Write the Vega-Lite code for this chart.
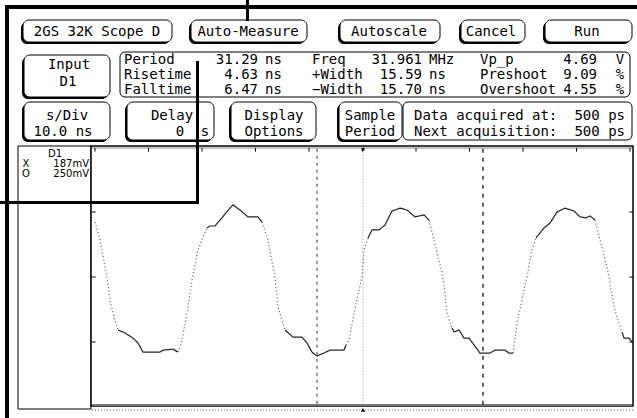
{
  "$schema": "https://vega.github.io/schema/vega-lite/v6.json",
  "width": 637,
  "height": 418,
  "padding": 0,
  "autosize": {"type": "fit", "contains": "padding"},
  "background": "white",
  "config": {"view": {"stroke": null}, "text": {"font": "DejaVu Sans Mono", "fontSize": 14, "color": "black", "baseline": "middle"}},
  "datasets": {
    "frame": [{"x": 5, "x2": 637, "y": 5, "y2": 9}, {"x": 5, "x2": 9, "y": 5, "y2": 418}],
    "connectors": [{"x": 246, "x2": 249, "y": 0, "y2": 21}, {"x": 196, "x2": 199, "y": 61, "y2": 204}, {"x": 0, "x2": 199, "y": 201, "y2": 204}],
    "buttons": [
      {"x": 23, "x2": 172, "y": 20, "y2": 42},
      {"x": 191, "x2": 307, "y": 20, "y2": 42},
      {"x": 340, "x2": 440, "y": 20, "y2": 42},
      {"x": 461, "x2": 525, "y": 20, "y2": 42},
      {"x": 545, "x2": 632, "y": 20, "y2": 42},
      {"x": 24, "x2": 110, "y": 55, "y2": 97},
      {"x": 24, "x2": 110, "y": 102, "y2": 140},
      {"x": 127, "x2": 214, "y": 102, "y2": 140},
      {"x": 231, "x2": 316, "y": 102, "y2": 140},
      {"x": 339, "x2": 402, "y": 102, "y2": 140}
    ],
    "boxes": [{"x": 120, "x2": 630, "y": 52, "y2": 97}, {"x": 403, "x2": 632, "y": 102, "y2": 140}],
    "panel": [{"x": 18, "x2": 91, "y": 146, "y2": 409}],
    "plotbox": [{"x": 91, "x2": 633, "y": 146, "y2": 406}],
    "grayTop": [{"x": 92, "x2": 632, "y": 148}],
    "grayBottom": [{"x": 92, "x2": 632, "y": 405}],
    "dotBottom": [{"x": 92, "x2": 633, "y": 410}],
    "textCenter": [
      {"x": 97, "y": 32, "text": "2GS 32K Scope D"},
      {"x": 248, "y": 32, "text": "Auto-Measure"},
      {"x": 389, "y": 32, "text": "Autoscale"},
      {"x": 491, "y": 32, "text": "Cancel"},
      {"x": 587, "y": 32, "text": "Run"},
      {"x": 69, "y": 65, "text": "Input"},
      {"x": 68, "y": 82, "text": "D1"},
      {"x": 67, "y": 116, "text": "s/Div"},
      {"x": 63, "y": 132, "text": "10.0 ns"},
      {"x": 172, "y": 116, "text": "Delay"},
      {"x": 180, "y": 132, "text": "0"},
      {"x": 205, "y": 132, "text": "s"},
      {"x": 274, "y": 116, "text": "Display"},
      {"x": 274, "y": 132, "text": "Options"},
      {"x": 370, "y": 116, "text": "Sample"},
      {"x": 370, "y": 132, "text": "Period"},
      {"x": 620, "y": 60, "text": "V"},
      {"x": 620, "y": 75, "text": "%"},
      {"x": 620, "y": 90, "text": "%"}
    ],
    "textLeft": [
      {"x": 124, "y": 60, "text": "Period"},
      {"x": 124, "y": 75, "text": "Risetime"},
      {"x": 124, "y": 90, "text": "Falltime"},
      {"x": 265, "y": 60, "text": "ns"},
      {"x": 265, "y": 75, "text": "ns"},
      {"x": 265, "y": 90, "text": "ns"},
      {"x": 312, "y": 60, "text": "Freq"},
      {"x": 312, "y": 75, "text": "+Width"},
      {"x": 312, "y": 90, "text": "−Width"},
      {"x": 429, "y": 60, "text": "MHz"},
      {"x": 429, "y": 75, "text": "ns"},
      {"x": 429, "y": 90, "text": "ns"},
      {"x": 480, "y": 60, "text": "Vp_p"},
      {"x": 480, "y": 75, "text": "Preshoot"},
      {"x": 480, "y": 90, "text": "Overshoot"},
      {"x": 414, "y": 116, "text": "Data acquired at:"},
      {"x": 414, "y": 132, "text": "Next acquisition:"}
    ],
    "textRight": [
      {"x": 258, "y": 60, "text": "31.29"},
      {"x": 258, "y": 75, "text": "4.63"},
      {"x": 258, "y": 90, "text": "6.47"},
      {"x": 422, "y": 60, "text": "31.961"},
      {"x": 422, "y": 75, "text": "15.59"},
      {"x": 422, "y": 90, "text": "15.70"},
      {"x": 597, "y": 60, "text": "4.69"},
      {"x": 597, "y": 75, "text": "9.09"},
      {"x": 597, "y": 90, "text": "4.55"},
      {"x": 625, "y": 116, "text": "500 ps"},
      {"x": 625, "y": 132, "text": "500 ps"}
    ],
    "panelCenter": [
      {"x": 55, "y": 154, "text": "D1"},
      {"x": 26, "y": 164, "text": "X"},
      {"x": 26, "y": 174, "text": "O"}
    ],
    "panelRight": [
      {"x": 89, "y": 164, "text": "187mV"},
      {"x": 89, "y": 174, "text": "250mV"}
    ],
    "xticks": [{"t": 0}, {"t": 10}, {"t": 20}, {"t": 30}, {"t": 40}, {"t": 50}, {"t": 60}, {"t": 70}, {"t": 80}, {"t": 90}, {"t": 100}],
    "yticks": [{"v": 2}, {"v": 0}, {"v": -2}],
    "cursorX": [{"t": 41.5}],
    "cursorTrig": [{"t": 50.09}],
    "cursorO": [{"t": 72.52}],
    "trigMarker": [{"t": 50.09, "v": -4.09}],
    "trigTop": [{"t": 50.09, "v": 3.93}],
    "wave": [
      {"t": 0, "v": 1.69, "seg": 1, "kind": "edge"},
      {"t": 0.93, "v": 1.14, "seg": 1, "kind": "edge"},
      {"t": 2.24, "v": 0, "seg": 1, "kind": "edge"},
      {"t": 2.8, "v": -0.71, "seg": 1, "kind": "edge"},
      {"t": 3.36, "v": -1.11, "seg": 1, "kind": "edge"},
      {"t": 4.3, "v": -1.63, "seg": 1, "kind": "edge"},
      {"t": 4.3, "v": -1.63, "seg": 2, "kind": "flat"},
      {"t": 5.61, "v": -1.72, "seg": 2, "kind": "flat"},
      {"t": 7.1, "v": -1.88, "seg": 2, "kind": "flat"},
      {"t": 8.04, "v": -2.03, "seg": 2, "kind": "flat"},
      {"t": 8.97, "v": -2.31, "seg": 2, "kind": "flat"},
      {"t": 12.15, "v": -2.31, "seg": 2, "kind": "flat"},
      {"t": 12.71, "v": -2.25, "seg": 2, "kind": "flat"},
      {"t": 14.58, "v": -2.22, "seg": 2, "kind": "flat"},
      {"t": 15.51, "v": -2.31, "seg": 2, "kind": "flat"},
      {"t": 15.51, "v": -2.31, "seg": 3, "kind": "edge"},
      {"t": 16.26, "v": -1.94, "seg": 3, "kind": "edge"},
      {"t": 17.2, "v": -1.11, "seg": 3, "kind": "edge"},
      {"t": 18.13, "v": -0.09, "seg": 3, "kind": "edge"},
      {"t": 18.5, "v": 0.22, "seg": 3, "kind": "edge"},
      {"t": 19.25, "v": 0.83, "seg": 3, "kind": "edge"},
      {"t": 20.19, "v": 1.23, "seg": 3, "kind": "edge"},
      {"t": 20.93, "v": 1.51, "seg": 3, "kind": "edge"},
      {"t": 20.93, "v": 1.51, "seg": 4, "kind": "flat"},
      {"t": 21.5, "v": 1.57, "seg": 4, "kind": "flat"},
      {"t": 22.43, "v": 1.57, "seg": 4, "kind": "flat"},
      {"t": 23.36, "v": 1.75, "seg": 4, "kind": "flat"},
      {"t": 25.23, "v": 2.12, "seg": 4, "kind": "flat"},
      {"t": 25.79, "v": 2.22, "seg": 4, "kind": "flat"},
      {"t": 27.1, "v": 2.06, "seg": 4, "kind": "flat"},
      {"t": 28.6, "v": 1.85, "seg": 4, "kind": "flat"},
      {"t": 30.47, "v": 1.85, "seg": 4, "kind": "flat"},
      {"t": 31.21, "v": 1.69, "seg": 4, "kind": "flat"},
      {"t": 31.21, "v": 1.69, "seg": 5, "kind": "edge"},
      {"t": 32.34, "v": 1.14, "seg": 5, "kind": "edge"},
      {"t": 33.27, "v": 0.31, "seg": 5, "kind": "edge"},
      {"t": 33.64, "v": 0, "seg": 5, "kind": "edge"},
      {"t": 34.21, "v": -0.92, "seg": 5, "kind": "edge"},
      {"t": 35.51, "v": -1.63, "seg": 5, "kind": "edge"},
      {"t": 35.51, "v": -1.63, "seg": 6, "kind": "flat"},
      {"t": 37.01, "v": -1.85, "seg": 6, "kind": "flat"},
      {"t": 38.69, "v": -1.85, "seg": 6, "kind": "flat"},
      {"t": 39.63, "v": -2.03, "seg": 6, "kind": "flat"},
      {"t": 40.56, "v": -2.31, "seg": 6, "kind": "flat"},
      {"t": 41.5, "v": -2.43, "seg": 6, "kind": "flat"},
      {"t": 42.8, "v": -2.34, "seg": 6, "kind": "flat"},
      {"t": 43.93, "v": -2.25, "seg": 6, "kind": "flat"},
      {"t": 46.54, "v": -2.25, "seg": 6, "kind": "flat"},
      {"t": 46.92, "v": -2.09, "seg": 6, "kind": "flat"},
      {"t": 46.92, "v": -2.09, "seg": 7, "kind": "edge"},
      {"t": 47.48, "v": -1.94, "seg": 7, "kind": "edge"},
      {"t": 48.41, "v": -1.11, "seg": 7, "kind": "edge"},
      {"t": 49.35, "v": -0.4, "seg": 7, "kind": "edge"},
      {"t": 49.91, "v": 0, "seg": 7, "kind": "edge"},
      {"t": 50.28, "v": 0.83, "seg": 7, "kind": "edge"},
      {"t": 51.03, "v": 1.2, "seg": 7, "kind": "edge"},
      {"t": 51.03, "v": 1.2, "seg": 8, "kind": "flat"},
      {"t": 51.78, "v": 1.45, "seg": 8, "kind": "flat"},
      {"t": 53.08, "v": 1.45, "seg": 8, "kind": "flat"},
      {"t": 54.21, "v": 1.6, "seg": 8, "kind": "flat"},
      {"t": 55.51, "v": 2.03, "seg": 8, "kind": "flat"},
      {"t": 57.01, "v": 2.12, "seg": 8, "kind": "flat"},
      {"t": 58.32, "v": 2.06, "seg": 8, "kind": "flat"},
      {"t": 59.81, "v": 1.85, "seg": 8, "kind": "flat"},
      {"t": 61.5, "v": 1.91, "seg": 8, "kind": "flat"},
      {"t": 62.43, "v": 1.75, "seg": 8, "kind": "flat"},
      {"t": 62.43, "v": 1.75, "seg": 9, "kind": "edge"},
      {"t": 63.36, "v": 1.14, "seg": 9, "kind": "edge"},
      {"t": 64.3, "v": 0.52, "seg": 9, "kind": "edge"},
      {"t": 64.86, "v": 0.12, "seg": 9, "kind": "edge"},
      {"t": 65.23, "v": -0.25, "seg": 9, "kind": "edge"},
      {"t": 65.79, "v": -1.11, "seg": 9, "kind": "edge"},
      {"t": 66.73, "v": -1.57, "seg": 9, "kind": "edge"},
      {"t": 66.73, "v": -1.57, "seg": 10, "kind": "flat"},
      {"t": 67.1, "v": -1.69, "seg": 10, "kind": "flat"},
      {"t": 68.04, "v": -1.63, "seg": 10, "kind": "flat"},
      {"t": 68.97, "v": -1.88, "seg": 10, "kind": "flat"},
      {"t": 69.91, "v": -1.88, "seg": 10, "kind": "flat"},
      {"t": 70.84, "v": -2.09, "seg": 10, "kind": "flat"},
      {"t": 71.96, "v": -2.34, "seg": 10, "kind": "flat"},
      {"t": 73.83, "v": -2.34, "seg": 10, "kind": "flat"},
      {"t": 74.77, "v": -2.25, "seg": 10, "kind": "flat"},
      {"t": 76.64, "v": -2.25, "seg": 10, "kind": "flat"},
      {"t": 77.38, "v": -2.34, "seg": 10, "kind": "flat"},
      {"t": 78.13, "v": -2.34, "seg": 10, "kind": "flat"},
      {"t": 78.13, "v": -2.34, "seg": 11, "kind": "edge"},
      {"t": 78.88, "v": -1.42, "seg": 11, "kind": "edge"},
      {"t": 79.81, "v": -0.71, "seg": 11, "kind": "edge"},
      {"t": 80.56, "v": -0.09, "seg": 11, "kind": "edge"},
      {"t": 80.75, "v": 0, "seg": 11, "kind": "edge"},
      {"t": 81.68, "v": 0.83, "seg": 11, "kind": "edge"},
      {"t": 82.43, "v": 1.2, "seg": 11, "kind": "edge"},
      {"t": 82.43, "v": 1.2, "seg": 12, "kind": "flat"},
      {"t": 83.93, "v": 1.51, "seg": 12, "kind": "flat"},
      {"t": 85.05, "v": 1.66, "seg": 12, "kind": "flat"},
      {"t": 86.36, "v": 2.0, "seg": 12, "kind": "flat"},
      {"t": 87.85, "v": 2.12, "seg": 12, "kind": "flat"},
      {"t": 89.53, "v": 2.03, "seg": 12, "kind": "flat"},
      {"t": 90.65, "v": 1.85, "seg": 12, "kind": "flat"},
      {"t": 91.78, "v": 1.82, "seg": 12, "kind": "flat"},
      {"t": 92.52, "v": 1.88, "seg": 12, "kind": "flat"},
      {"t": 93.46, "v": 1.75, "seg": 12, "kind": "flat"},
      {"t": 93.46, "v": 1.75, "seg": 13, "kind": "edge"},
      {"t": 94.39, "v": 1.14, "seg": 13, "kind": "edge"},
      {"t": 95.7, "v": 0.31, "seg": 13, "kind": "edge"},
      {"t": 96.07, "v": 0, "seg": 13, "kind": "edge"},
      {"t": 97.01, "v": -0.92, "seg": 13, "kind": "edge"},
      {"t": 97.94, "v": -1.42, "seg": 13, "kind": "edge"},
      {"t": 98.5, "v": -1.69, "seg": 13, "kind": "edge"},
      {"t": 98.5, "v": -1.69, "seg": 14, "kind": "flat"},
      {"t": 98.88, "v": -1.88, "seg": 14, "kind": "flat"},
      {"t": 99.81, "v": -1.88, "seg": 14, "kind": "flat"},
      {"t": 100.37, "v": -2.0, "seg": 14, "kind": "flat"}
    ]
  },
  "resolve": {"scale": {"x": "independent", "y": "independent"}},
  "layer": [
    {
      "encoding": {
        "x": {"field": "x", "type": "quantitative", "scale": {"domain": [0, 637], "nice": false, "zero": false}, "axis": null},
        "y": {"field": "y", "type": "quantitative", "scale": {"domain": [0, 418], "nice": false, "zero": false, "reverse": true}, "axis": null}
      },
      "layer": [
        {"data": {"name": "frame"}, "mark": {"type": "rect", "fill": "black"}, "encoding": {"x2": {"field": "x2"}, "y2": {"field": "y2"}}},
        {"data": {"name": "buttons"}, "mark": {"type": "rect", "fill": "black", "cornerRadius": 6, "xOffset": -2, "x2Offset": -2, "yOffset": 2, "y2Offset": 2}, "encoding": {"x2": {"field": "x2"}, "y2": {"field": "y2"}}},
        {"data": {"name": "buttons"}, "mark": {"type": "rect", "fill": "white", "stroke": "black", "strokeWidth": 1, "cornerRadius": 6}, "encoding": {"x2": {"field": "x2"}, "y2": {"field": "y2"}}},
        {"data": {"name": "boxes"}, "mark": {"type": "rect", "fill": "white", "stroke": "black", "strokeWidth": 1, "cornerRadius": 5}, "encoding": {"x2": {"field": "x2"}, "y2": {"field": "y2"}}},
        {"data": {"name": "panel"}, "mark": {"type": "rect", "fill": "white", "stroke": "black", "strokeWidth": 1}, "encoding": {"x2": {"field": "x2"}, "y2": {"field": "y2"}}},
        {"data": {"name": "plotbox"}, "mark": {"type": "rect", "fill": "white", "stroke": "black", "strokeWidth": 1.5}, "encoding": {"x2": {"field": "x2"}, "y2": {"field": "y2"}}},
        {"data": {"name": "grayTop"}, "mark": {"type": "rule", "color": "#888888", "strokeWidth": 1}, "encoding": {"x2": {"field": "x2"}}},
        {"data": {"name": "grayBottom"}, "mark": {"type": "rule", "color": "#777777", "strokeWidth": 2}, "encoding": {"x2": {"field": "x2"}}},
        {"data": {"name": "dotBottom"}, "mark": {"type": "rule", "color": "#555555", "strokeWidth": 1, "strokeDash": [1, 2]}, "encoding": {"x2": {"field": "x2"}}},
        {"data": {"name": "textCenter"}, "mark": {"type": "text", "align": "center"}, "encoding": {"text": {"field": "text"}}},
        {"data": {"name": "textLeft"}, "mark": {"type": "text", "align": "left"}, "encoding": {"text": {"field": "text"}}},
        {"data": {"name": "textRight"}, "mark": {"type": "text", "align": "right"}, "encoding": {"text": {"field": "text"}}},
        {"data": {"name": "panelCenter"}, "mark": {"type": "text", "align": "center", "font": "DejaVu Sans", "fontSize": 10}, "encoding": {"text": {"field": "text"}}},
        {"data": {"name": "panelRight"}, "mark": {"type": "text", "align": "right", "font": "DejaVu Sans", "fontSize": 10}, "encoding": {"text": {"field": "text"}}}
      ]
    },
    {
      "layer": [
        {"data": {"name": "xticks"}, "mark": {"type": "rule", "color": "black", "strokeWidth": 1}, "encoding": {
          "x": {"field": "t", "type": "quantitative", "scale": {"domain": [-17.757, 101.308], "nice": false, "zero": false}, "axis": null},
          "y": {"datum": 3.97, "type": "quantitative", "scale": {"domain": [-4.338, 8.523], "nice": false, "zero": false}, "axis": null},
          "y2": {"datum": 3.86}}},
        {"data": {"name": "yticks"}, "mark": {"type": "rule", "color": "black", "strokeWidth": 1}, "encoding": {
          "x": {"datum": -0.56, "type": "quantitative", "scale": {"domain": [-17.757, 101.308], "nice": false, "zero": false}, "axis": null},
          "x2": {"datum": 0.1},
          "y": {"field": "v", "type": "quantitative", "scale": {"domain": [-4.338, 8.523], "nice": false, "zero": false}, "axis": null}}},
        {"data": {"name": "yticks"}, "mark": {"type": "rule", "color": "black", "strokeWidth": 1}, "encoding": {
          "x": {"datum": 99.9, "type": "quantitative", "scale": {"domain": [-17.757, 101.308], "nice": false, "zero": false}, "axis": null},
          "x2": {"datum": 100.56},
          "y": {"field": "v", "type": "quantitative", "scale": {"domain": [-4.338, 8.523], "nice": false, "zero": false}, "axis": null}}},
        {"data": {"name": "cursorX"}, "mark": {"type": "rule", "color": "#555555", "strokeWidth": 1.2, "strokeDash": [3, 4]}, "encoding": {
          "x": {"field": "t", "type": "quantitative", "scale": {"domain": [-17.757, 101.308], "nice": false, "zero": false}, "axis": null},
          "y": {"datum": 3.95, "type": "quantitative", "scale": {"domain": [-4.338, 8.523], "nice": false, "zero": false}, "axis": null},
          "y2": {"datum": -3.94}}},
        {"data": {"name": "cursorTrig"}, "mark": {"type": "rule", "color": "#888888", "strokeWidth": 1, "strokeDash": [1, 2]}, "encoding": {
          "x": {"field": "t", "type": "quantitative", "scale": {"domain": [-17.757, 101.308], "nice": false, "zero": false}, "axis": null},
          "y": {"datum": 3.95, "type": "quantitative", "scale": {"domain": [-4.338, 8.523], "nice": false, "zero": false}, "axis": null},
          "y2": {"datum": -3.94}}},
        {"data": {"name": "cursorO"}, "mark": {"type": "rule", "color": "black", "strokeWidth": 1.2, "strokeDash": [4, 5]}, "encoding": {
          "x": {"field": "t", "type": "quantitative", "scale": {"domain": [-17.757, 101.308], "nice": false, "zero": false}, "axis": null},
          "y": {"datum": 3.95, "type": "quantitative", "scale": {"domain": [-4.338, 8.523], "nice": false, "zero": false}, "axis": null},
          "y2": {"datum": -3.94}}},
        {"data": {"name": "wave"}, "mark": {"type": "line", "strokeWidth": 1.2}, "encoding": {
          "x": {"field": "t", "type": "quantitative", "scale": {"domain": [-17.757, 101.308], "nice": false, "zero": false}, "axis": null},
          "y": {"field": "v", "type": "quantitative", "scale": {"domain": [-4.338, 8.523], "nice": false, "zero": false}, "axis": null},
          "detail": {"field": "seg", "type": "nominal"},
          "color": {"field": "kind", "type": "nominal", "scale": {"domain": ["edge", "flat"], "range": ["#555555", "#222222"]}, "legend": null},
          "strokeDash": {"field": "kind", "type": "nominal", "scale": {"domain": ["edge", "flat"], "range": [[1, 2.5], [1, 0]]}, "legend": null}
        }},
        {"data": {"name": "trigMarker"}, "mark": {"type": "point", "shape": "triangle-up", "filled": true, "color": "black", "size": 18, "opacity": 1}, "encoding": {
          "x": {"field": "t", "type": "quantitative", "scale": {"domain": [-17.757, 101.308], "nice": false, "zero": false}, "axis": null},
          "y": {"field": "v", "type": "quantitative", "scale": {"domain": [-4.338, 8.523], "nice": false, "zero": false}, "axis": null}}},
        {"data": {"name": "trigTop"}, "mark": {"type": "square", "color": "black", "size": 8, "opacity": 1}, "encoding": {
          "x": {"field": "t", "type": "quantitative", "scale": {"domain": [-17.757, 101.308], "nice": false, "zero": false}, "axis": null},
          "y": {"field": "v", "type": "quantitative", "scale": {"domain": [-4.338, 8.523], "nice": false, "zero": false}, "axis": null}}}
      ]
    },
    {
      "encoding": {
        "x": {"field": "x", "type": "quantitative", "scale": {"domain": [0, 637], "nice": false, "zero": false}, "axis": null},
        "y": {"field": "y", "type": "quantitative", "scale": {"domain": [0, 418], "nice": false, "zero": false, "reverse": true}, "axis": null}
      },
      "layer": [
        {"data": {"name": "connectors"}, "mark": {"type": "rect", "fill": "black"}, "encoding": {"x2": {"field": "x2"}, "y2": {"field": "y2"}}}
      ]
    }
  ]
}
